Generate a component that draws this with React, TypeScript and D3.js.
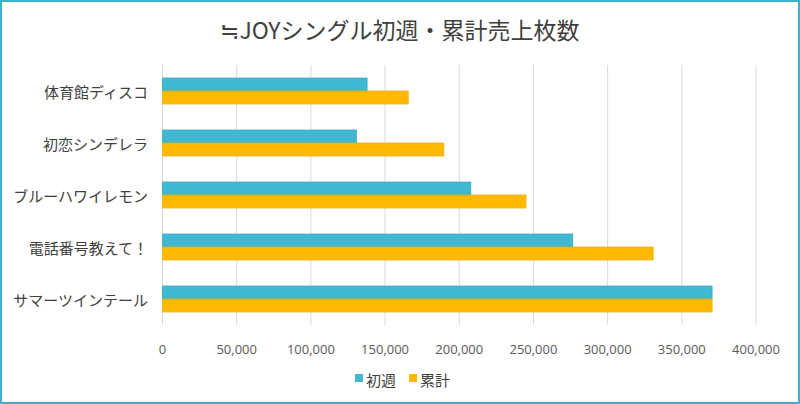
import React, { useEffect } from "react";
import * as d3 from "d3";

const songs = [
  "体育館ディスコ",
  "初恋シンデレラ",
  "ブルーハワイレモン",
  "電話番号教えて！",
  "サマーツインテール",
];
const firstWeek = [137900, 130700, 207800, 276500, 370400];
const total = [165600, 189600, 245000, 330700, 370400];
const seriesNames = ["初週", "累計"];
const xTicks = [0, 50000, 100000, 150000, 200000, 250000, 300000, 350000, 400000];

const colors = ["#3fb8d4", "#ffb900"];
const strokes = ["#34a9c4", "#f2ae00"];
const jpFont = "'Noto Sans CJK JP', 'Noto Sans', sans-serif";

export default function App() {
  useEffect(() => {
    document.body.style.margin = "0";
  }, []);

  const width = 800;
  const height = 404;

  const x = d3.scaleLinear().domain([0, 400000]).range([162.5, 756]);
  const y = d3
    .scaleBand<string>()
    .domain(songs)
    .range([65, 325])
    .paddingInner(0.5)
    .paddingOuter(0.25);
  const sub = d3
    .scaleBand<string>()
    .domain(seriesNames)
    .range([0, y.bandwidth()]);

  const values = [firstWeek, total];
  const fmt = d3.format(",");

  return (
    <svg width={width} height={height} style={{ display: "block", background: "#fff" }}>
      <rect x={1} y={1} width={width - 2} height={height - 2} fill="#fff" stroke="#3bb3cb" strokeWidth={2} />

      <text
        x={400}
        y={29}
        textAnchor="middle"
        dominantBaseline="central"
        fontFamily={jpFont}
        fontSize={23}
        fill="#404040"
      >
        ≒JOYシングル初週・累計売上枚数
      </text>

      {/* grid */}
      {xTicks.map((t) => (
        <line key={t} x1={x(t)} x2={x(t)} y1={65} y2={325} stroke="#d9d9d9" strokeWidth={1} />
      ))}

      {/* bars */}
      {seriesNames.map((s, si) =>
        songs.map((song, i) => (
          <rect
            key={s + song}
            x={x(0)}
            y={(y(song) ?? 0) + (sub(s) ?? 0)}
            width={x(values[si][i]) - x(0)}
            height={sub.bandwidth()}
            fill={colors[si]}
            stroke={strokes[si]}
            strokeWidth={0.75}
          />
        ))
      )}

      {/* category labels */}
      {songs.map((song) => (
        <text
          key={song}
          x={148}
          y={(y(song) ?? 0) + y.bandwidth() / 2}
          textAnchor="end"
          dominantBaseline="central"
          fontFamily={jpFont}
          fontSize={15}
          fill="#404040"
        >
          {song}
        </text>
      ))}

      {/* x tick labels */}
      {xTicks.map((t) => (
        <text
          key={t}
          x={x(t)}
          y={349}
          textAnchor="middle"
          dominantBaseline="central"
          fontFamily="'Open Sans', sans-serif"
          fontSize={13}
          fill="#595959"
        >
          {fmt(t)}
        </text>
      ))}

      {/* legend */}
      {seriesNames.map((s, si) => {
        const lx = 355 + si * 54;
        return (
          <g key={s}>
            <rect x={lx} y={374} width={8} height={8} fill={colors[si]} />
            <text
              x={lx + 11}
              y={379}
              dominantBaseline="central"
              fontFamily={jpFont}
              fontSize={15}
              fill="#404040"
            >
              {s}
            </text>
          </g>
        );
      })}
    </svg>
  );
}
